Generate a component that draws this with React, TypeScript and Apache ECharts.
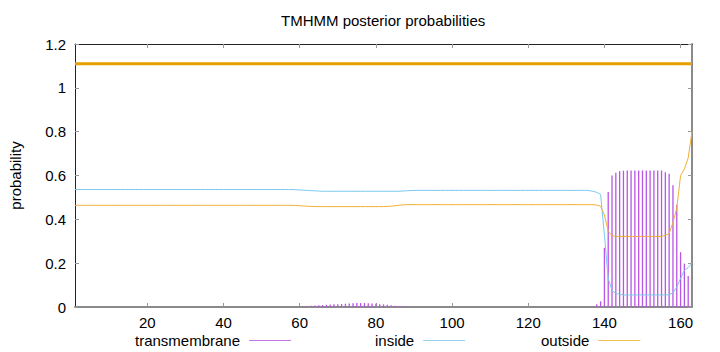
import React, { useEffect, useRef } from "react";
import * as echarts from "echarts";

// Residue positions 1..163
const residues: number[] = Array.from({ length: 163 }, (_, i) => i + 1);

const tickValues = [20, 40, 60, 80, 100, 120, 140, 160];

// posterior probability of "inside", per residue (rows of 10)
const insideProb: number[] = [
  0.536, 0.536, 0.536, 0.536, 0.536, 0.536, 0.536, 0.536, 0.536, 0.536,
  0.536, 0.536, 0.536, 0.536, 0.536, 0.536, 0.536, 0.536, 0.536, 0.536,
  0.536, 0.536, 0.536, 0.536, 0.536, 0.536, 0.536, 0.536, 0.536, 0.536,
  0.536, 0.536, 0.536, 0.536, 0.536, 0.536, 0.536, 0.536, 0.536, 0.536,
  0.536, 0.536, 0.536, 0.536, 0.536, 0.536, 0.536, 0.536, 0.536, 0.536,
  0.536, 0.536, 0.536, 0.536, 0.536, 0.536, 0.536, 0.536, 0.535, 0.534,
  0.533, 0.532, 0.531, 0.530, 0.529, 0.528, 0.528, 0.528, 0.528, 0.528,
  0.528, 0.528, 0.528, 0.528, 0.528, 0.528, 0.528, 0.528, 0.528, 0.528,
  0.528, 0.528, 0.528, 0.528, 0.528, 0.528, 0.529, 0.530, 0.531, 0.532,
  0.532, 0.532, 0.532, 0.532, 0.532, 0.532, 0.532, 0.532, 0.532, 0.532,
  0.532, 0.532, 0.532, 0.532, 0.532, 0.532, 0.532, 0.532, 0.532, 0.532,
  0.532, 0.532, 0.532, 0.532, 0.532, 0.532, 0.532, 0.532, 0.532, 0.532,
  0.532, 0.532, 0.532, 0.532, 0.532, 0.532, 0.532, 0.532, 0.532, 0.532,
  0.532, 0.532, 0.532, 0.532, 0.532, 0.531, 0.528, 0.523, 0.514, 0.33,
  0.13, 0.075, 0.062, 0.058, 0.055, 0.055, 0.055, 0.055, 0.055, 0.055,
  0.055, 0.055, 0.055, 0.055, 0.055, 0.055, 0.056, 0.065, 0.09, 0.13,
  0.168, 0.18, 0.2,
];

// posterior probability of "outside", per residue
const outsideProb: number[] = [
  0.464, 0.464, 0.464, 0.464, 0.464, 0.464, 0.464, 0.464, 0.464, 0.464,
  0.464, 0.464, 0.464, 0.464, 0.464, 0.464, 0.464, 0.464, 0.464, 0.464,
  0.464, 0.464, 0.464, 0.464, 0.464, 0.464, 0.464, 0.464, 0.464, 0.464,
  0.464, 0.464, 0.464, 0.464, 0.464, 0.464, 0.464, 0.464, 0.464, 0.464,
  0.464, 0.464, 0.464, 0.464, 0.464, 0.464, 0.464, 0.464, 0.464, 0.464,
  0.464, 0.464, 0.464, 0.464, 0.464, 0.464, 0.464, 0.464, 0.463, 0.462,
  0.461, 0.460, 0.459, 0.458, 0.458, 0.458, 0.458, 0.458, 0.458, 0.458,
  0.458, 0.458, 0.458, 0.458, 0.458, 0.458, 0.458, 0.458, 0.458, 0.458,
  0.458, 0.458, 0.459, 0.460, 0.462, 0.464, 0.466, 0.467, 0.467, 0.467,
  0.467, 0.467, 0.467, 0.467, 0.467, 0.467, 0.467, 0.467, 0.467, 0.467,
  0.467, 0.467, 0.467, 0.467, 0.467, 0.467, 0.467, 0.467, 0.467, 0.467,
  0.467, 0.467, 0.467, 0.467, 0.467, 0.467, 0.467, 0.467, 0.467, 0.467,
  0.467, 0.467, 0.467, 0.467, 0.467, 0.467, 0.467, 0.467, 0.467, 0.467,
  0.467, 0.467, 0.467, 0.467, 0.467, 0.467, 0.467, 0.465, 0.460, 0.42,
  0.345, 0.325, 0.322, 0.322, 0.322, 0.322, 0.322, 0.322, 0.322, 0.322,
  0.322, 0.322, 0.322, 0.322, 0.322, 0.327, 0.335, 0.385, 0.45, 0.6,
  0.63, 0.68, 0.8,
];

// posterior probability of "transmembrane", per residue
const tmProb: number[] = [
  0, 0, 0, 0, 0, 0, 0, 0, 0, 0,
  0, 0, 0, 0, 0, 0, 0, 0, 0, 0,
  0, 0, 0, 0, 0, 0, 0, 0, 0, 0,
  0, 0, 0, 0, 0, 0, 0, 0, 0, 0,
  0, 0, 0, 0, 0, 0, 0, 0, 0, 0,
  0, 0, 0, 0, 0, 0, 0, 0, 0, 0.002,
  0.004, 0.005, 0.006, 0.007, 0.008, 0.009, 0.01, 0.011, 0.012, 0.013,
  0.014, 0.015, 0.016, 0.017, 0.018, 0.018, 0.018, 0.017, 0.016, 0.015,
  0.013, 0.012, 0.01, 0.008, 0.006, 0.004, 0.003, 0.002, 0, 0,
  0, 0, 0, 0, 0, 0, 0, 0, 0, 0,
  0, 0, 0, 0, 0, 0, 0, 0, 0, 0,
  0, 0, 0, 0, 0, 0, 0, 0, 0, 0,
  0, 0, 0, 0, 0, 0, 0, 0, 0, 0,
  0, 0, 0, 0, 0, 0, 0, 0.012, 0.026, 0.27,
  0.525, 0.6, 0.612, 0.62, 0.622, 0.623, 0.623, 0.623, 0.623, 0.623,
  0.623, 0.623, 0.623, 0.623, 0.623, 0.615, 0.608, 0.555, 0.467, 0.25,
  0.198, 0.141, 0,
];

// predicted topology: whole sequence "outside", drawn at y = 1.11
const topologyStart = 1;
const topologyEnd = 163;
const topologyLevel = 1.11;

const FONT = "'Liberation Sans', Arial, sans-serif";

const TM_COLOR = "#b955e4";
const IN_COLOR = "#7cc8f0";
const OUT_COLOR = "#eeb036";

export default function App() {
  const ref = useRef<HTMLDivElement>(null);

  useEffect(() => {
    if (!ref.current) return;
    const chart = echarts.init(ref.current, undefined, { renderer: "svg" });

    const pair = (arr: number[]) => residues.map((r, i) => [r, arr[i]]);

    const legendBase = {
      orient: "horizontal" as const,
      align: "right" as const,
      itemWidth: 42,
      itemHeight: 1,
      padding: 0,
      textStyle: { fontFamily: FONT, fontSize: 15, color: "#000", padding: [0, 4, 0, 0] },
      top: 333,
      selectedMode: false,
    };

    const legendItem = (name: string, color: string) => ({
      name,
      icon: "rect",
      itemStyle: { color, borderWidth: 0 },
    });

    chart.setOption({
      animation: false,
      backgroundColor: "#fff",
      textStyle: { fontFamily: FONT },
      title: {
        text: "TMHMM posterior probabilities",
        left: 281,
        top: 13,
        padding: 0,
        textStyle: { fontFamily: FONT, fontSize: 15, fontWeight: "normal", color: "#000" },
      },
      legend: [
        { ...legendBase, left: 135, data: [legendItem("transmembrane", "#c678ea")] },
        { ...legendBase, left: 375, data: [legendItem("inside", "#94d2f2")] },
        { ...legendBase, left: 541, data: [legendItem("outside", "#f2c050")] },
      ],
      grid: { left: 73, right: 28, top: 44, bottom: 45, containLabel: false },
      xAxis: [
        {
          type: "value",
          min: 1,
          max: 163,
          position: "bottom",
          axisLine: { onZero: false, lineStyle: { color: "#8a8a8a", width: 2 } },
          axisTick: { inside: true, length: 4, customValues: tickValues, lineStyle: { color: "#999" } },
          axisLabel: { customValues: tickValues, fontFamily: FONT, fontSize: 15, color: "#000", margin: 8 },
          splitLine: { show: false },
        },
        {
          type: "value",
          min: 1,
          max: 163,
          position: "top",
          axisLine: { onZero: false, lineStyle: { color: "#222", width: 1 } },
          axisTick: { inside: true, length: 4, customValues: tickValues, lineStyle: { color: "#999" } },
          axisLabel: { show: false },
          splitLine: { show: false },
        },
      ],
      yAxis: [
        {
          type: "value",
          min: 0,
          max: 1.2,
          interval: 0.2,
          position: "left",
          name: "probability",
          nameLocation: "middle",
          nameGap: 52,
          nameTextStyle: { fontFamily: FONT, fontSize: 15, color: "#000" },
          axisLine: { onZero: false, lineStyle: { color: "#222", width: 1 } },
          axisTick: { inside: true, length: 4, lineStyle: { color: "#999" } },
          axisLabel: { fontFamily: FONT, fontSize: 15, color: "#000", margin: 9 },
          splitLine: { show: false },
        },
        {
          type: "value",
          min: 0,
          max: 1.2,
          interval: 0.2,
          position: "right",
          axisLine: { onZero: false, lineStyle: { color: "#8a8a8a", width: 2 } },
          axisTick: { inside: true, length: 4, lineStyle: { color: "#999" } },
          axisLabel: { show: false },
          splitLine: { show: false },
        },
      ],
      series: [
        {
          name: "transmembrane",
          type: "bar",
          xAxisIndex: 0,
          yAxisIndex: 0,
          data: pair(tmProb),
          barWidth: 1.3,
          itemStyle: { color: TM_COLOR },
        },
        {
          name: "inside",
          type: "line",
          xAxisIndex: 0,
          yAxisIndex: 0,
          data: pair(insideProb),
          showSymbol: false,
          symbol: "none",
          color: IN_COLOR,
          lineStyle: { color: IN_COLOR, width: 1 },
          itemStyle: { color: IN_COLOR },
        },
        {
          name: "outside",
          type: "line",
          xAxisIndex: 0,
          yAxisIndex: 0,
          data: pair(outsideProb),
          showSymbol: false,
          symbol: "none",
          color: OUT_COLOR,
          lineStyle: { color: OUT_COLOR, width: 1 },
          itemStyle: { color: OUT_COLOR },
        },
        {
          name: "topology",
          type: "line",
          xAxisIndex: 0,
          yAxisIndex: 0,
          data: [
            [topologyStart, topologyLevel],
            [topologyEnd, topologyLevel],
          ],
          showSymbol: false,
          symbol: "none",
          color: "#e69f00",
          lineStyle: { color: "#e69f00", width: 3 },
          itemStyle: { color: "#e69f00" },
          z: 3,
        },
      ],
    });

    return () => chart.dispose();
  }, []);

  return (
    <div
      ref={ref}
      style={{ position: "absolute", left: 0, top: 0, width: 720, height: 352 }}
    />
  );
}
